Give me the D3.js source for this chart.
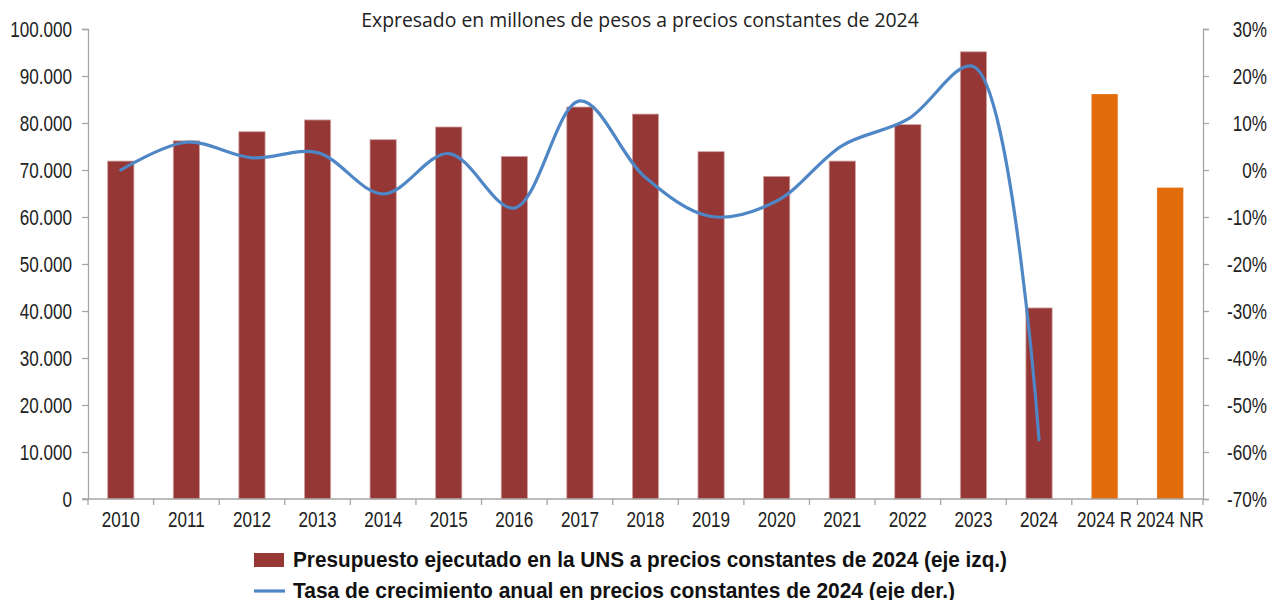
<!DOCTYPE html>
<html>
<head>
<meta charset="utf-8">
<script src="https://cdn.jsdelivr.net/npm/d3@7/dist/d3.min.js"></script>
<style>
  html, body { margin: 0; padding: 0; background: #fff; }
  svg { display: block; }
</style>
</head>
<body>
<svg id="chart" width="1275" height="600"></svg>
<script>
const categories = ["2010","2011","2012","2013","2014","2015","2016","2017","2018","2019","2020","2021","2022","2023","2024","2024 R","2024 NR"];
const budgetValues = [71900, 76200, 78150, 80650, 76450, 79150, 72900, 83400, 81900, 73900, 68650, 71900, 79650, 95150, 40650, 86150, 66250];
const growthCategories = ["2010","2011","2012","2013","2014","2015","2016","2017","2018","2019","2020","2021","2022","2023","2024"];
const growthValues = [0.0, 5.9, 2.6, 3.7, -5.1, 3.5, -8.1, 14.7, -1.6, -9.9, -6.6, 5.2, 10.8, 22.0, -57.4];
const highlightCategories = ["2024 R", "2024 NR"];
const leftTicks = [0, 10000, 20000, 30000, 40000, 50000, 60000, 70000, 80000, 90000, 100000];
const rightTicks = [-70, -60, -50, -40, -30, -20, -10, 0, 10, 20, 30];
const titleText = "Expresado en millones de pesos a precios constantes de 2024";
const legendLabels = ["Presupuesto ejecutado en la UNS a precios constantes de 2024 (eje izq.)",
                      "Tasa de crecimiento anual en precios constantes de 2024 (eje der.)"];

const svg = d3.select("#chart");
const mLeft = 88, mRight = 1203, mTop = 29, mBottom = 499;
const tickFont = "'Liberation Sans', Arial, sans-serif";
const axisColor = "#a6a6a6";
const textColor = "#222";

// squeeze glyphs horizontally to imitate a condensed face
function squeeze(sel, factor) {
  sel.each(function () {
    const L = this.getComputedTextLength();
    d3.select(this).attr("textLength", L * factor).attr("lengthAdjust", "spacingAndGlyphs");
  });
}

const x = d3.scaleBand().domain(categories).range([mLeft, mRight]).paddingInner(0.6).paddingOuter(0.3);
const yL = d3.scaleLinear().domain([0, 100000]).range([mBottom, mTop]);
const yR = d3.scaleLinear().domain([-70, 30]).range([mBottom, mTop]);

const loc = d3.formatLocale({decimal: ",", thousands: ".", grouping: [3], currency: ["$", ""]});
const fmtL = loc.format(",.0f");

// Title
svg.append("text").attr("x", 640).attr("y", 27).attr("text-anchor", "middle")
  .style("font-family", "'Open Sans', 'Noto Sans', sans-serif").style("font-size", "19.4px")
  .style("fill", textColor).text(titleText);

// Bars
svg.append("g").selectAll("rect").data(categories).join("rect")
  .attr("x", d => x(d))
  .attr("y", (d, i) => yL(budgetValues[i]))
  .attr("width", x.bandwidth())
  .attr("height", (d, i) => mBottom - yL(budgetValues[i]))
  .attr("fill", d => highlightCategories.includes(d) ? "#e36c0a" : "#953735")
  .attr("stroke", d => highlightCategories.includes(d) ? "none" : "#d2a4a4")
  .attr("stroke-width", 0.8);

// Left axis
const gL = svg.append("g").attr("transform", `translate(${mLeft},0)`)
  .call(d3.axisLeft(yL).tickValues(leftTicks).tickFormat(fmtL).tickSize(6).tickPadding(10));

// Right axis
const gR = svg.append("g").attr("transform", `translate(${mRight},0)`)
  .call(d3.axisRight(yR).tickValues(rightTicks).tickFormat(d => d + "%").tickSize(6).tickPadding(0));
gR.selectAll("text").attr("text-anchor", "end").attr("x", 64);

// Bottom axis (labels centered under each band, ticks at band boundaries)
const gB = svg.append("g").attr("transform", `translate(0,${mBottom})`)
  .call(d3.axisBottom(x).tickSize(0).tickPadding(12));
gB.select(".domain").remove();
gB.selectAll("text").attr("dy", null).attr("y", 28);

[gL, gR, gB].forEach(g => {
  g.selectAll("text").style("font-family", tickFont).style("font-size", "22.5px").style("fill", textColor);
  squeeze(g.selectAll("text"), 0.76);
});

const step = x.step();
const boundaries = categories.map(c => x(c) - step * x.paddingInner() / 2).concat([mRight]);
svg.append("g").selectAll("line").data(boundaries).join("line")
  .attr("x1", d => d).attr("x2", d => d).attr("y1", mBottom).attr("y2", mBottom + 6)
  .attr("stroke", axisColor).attr("stroke-width", 1.3);
svg.append("line").attr("x1", mLeft - 6).attr("x2", mRight).attr("y1", mBottom).attr("y2", mBottom)
  .attr("stroke", axisColor).attr("stroke-width", 1.3);

[gL, gR].forEach(g => {
  g.select(".domain").attr("stroke", axisColor).attr("stroke-width", 1.3);
  g.selectAll(".tick line").attr("stroke", axisColor).attr("stroke-width", 1.3);
});

// Growth line
const line = d3.line()
  .x((d, i) => x(growthCategories[i]) + x.bandwidth() / 2)
  .y(d => yR(d))
  .curve(d3.curveCatmullRom.alpha(0.5));
svg.append("path").datum(growthValues).attr("d", line)
  .attr("fill", "none").attr("stroke", "#4f86c6").attr("stroke-width", 3.2)
  .attr("stroke-linecap", "round");

// Legend
const lg = svg.append("g");
lg.append("rect").attr("x", 254).attr("y", 553).attr("width", 30).attr("height", 14).attr("fill", "#953735");
lg.append("line").attr("x1", 254).attr("x2", 285).attr("y1", 591).attr("y2", 591)
  .attr("stroke", "#4f86c6").attr("stroke-width", 3.2);
const legendWidths = [714, 662];
lg.selectAll("text").data(legendLabels).join("text")
  .attr("x", 293).attr("y", (d, i) => 567 + i * 31)
  .attr("textLength", (d, i) => legendWidths[i]).attr("lengthAdjust", "spacingAndGlyphs")
  .style("font-family", tickFont).style("font-weight", "bold").style("font-size", "21.5px")
  .style("fill", "#111").text(d => d);
</script>
</body>
</html>
